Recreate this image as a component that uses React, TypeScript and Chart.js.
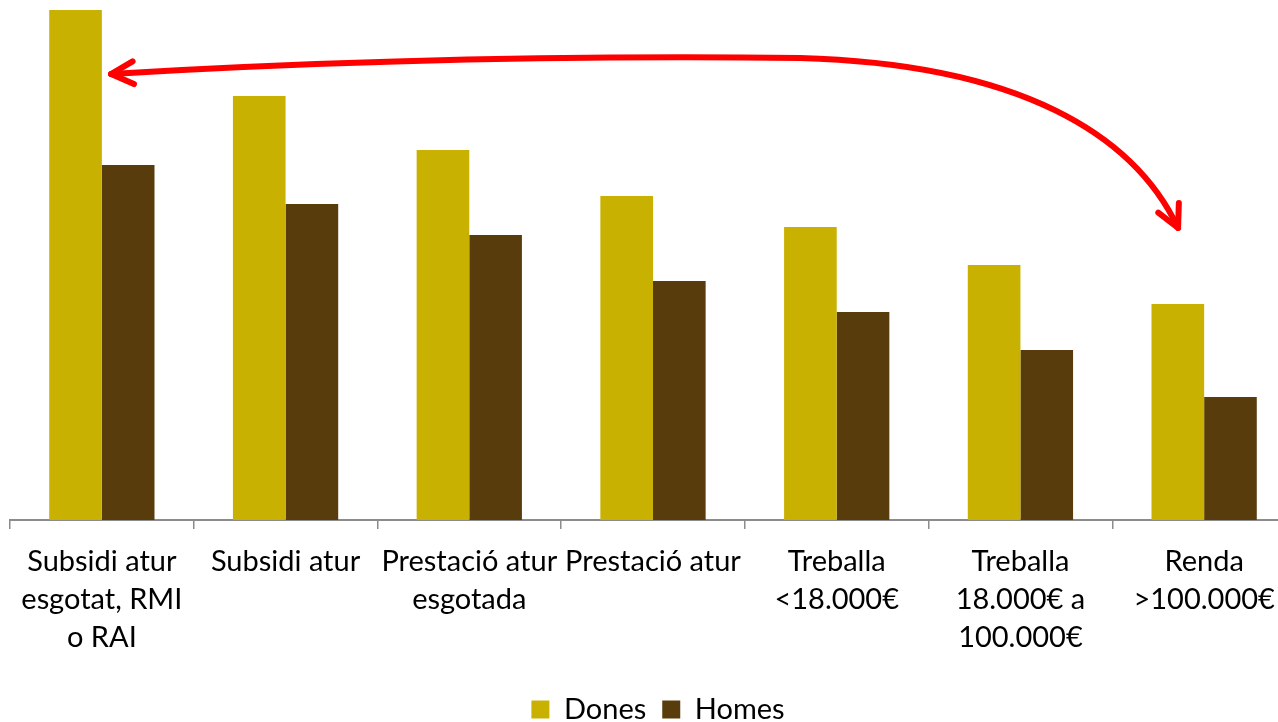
import { useEffect, useRef } from "react";
import { Chart, registerables } from "chart.js";

Chart.register(...registerables);

// ---- Data ----
const categories: string[][] = [
  ["Subsidi atur", "esgotat, RMI", "o RAI"],
  ["Subsidi atur"],
  ["Prestació atur", "esgotada"],
  ["Prestació atur"],
  ["Treballa", "<18.000€"],
  ["Treballa", "18.000€ a", "100.000€"],
  ["Renda", ">100.000€"],
];
const seriesNames = ["Dones", "Homes"];
const donesValues = [510, 424, 370, 324, 293, 255, 216];
const homesValues = [355, 316, 285, 239, 208, 170, 123];
const yMax = 520;

// Arrow annotation anchors: [category index (fractional), value]
const arrowStart = [0.05, 446];
const arrowCtrl1 = [1.895, 466];
const arrowMid = [3.8, 462];
const arrowCtrl2 = [5.0, 456];
const arrowCtrl3 = [5.62, 385];
const arrowEnd = [5.858, 292];

const FONT = "Lato, 'Open Sans', sans-serif";

const arrowPlugin = {
  id: "curvedArrow",
  afterDatasetsDraw(chart: any) {
    const xs = chart.scales.x;
    const ys = chart.scales.y;
    const c0 = xs.getPixelForValue(0);
    const cw = xs.getPixelForValue(1) - c0;
    const P = (a: number[]) => [c0 + a[0] * cw, ys.getPixelForValue(a[1])];
    const s = P(arrowStart), c1 = P(arrowCtrl1), m = P(arrowMid);
    const c2 = P(arrowCtrl2), c3 = P(arrowCtrl3), e = P(arrowEnd);
    const ctx = chart.ctx as CanvasRenderingContext2D;
    ctx.save();
    ctx.strokeStyle = "#FF0000";
    ctx.lineWidth = 6;
    ctx.lineCap = "round";
    ctx.lineJoin = "round";
    ctx.beginPath();
    ctx.moveTo(s[0], s[1]);
    ctx.quadraticCurveTo(c1[0], c1[1], m[0], m[1]);
    ctx.bezierCurveTo(c2[0], c2[1], c3[0], c3[1], e[0], e[1]);
    ctx.stroke();
    const head = (tip: number[], toward: number[]) => {
      const dx = toward[0] - tip[0], dy = toward[1] - tip[1];
      const len = Math.hypot(dx, dy);
      const ux = dx / len, uy = dy / len;
      const ang = (27 * Math.PI) / 180;
      const L = 25;
      const r = (a: number) => [
        tip[0] + L * (ux * Math.cos(a) - uy * Math.sin(a)),
        tip[1] + L * (ux * Math.sin(a) + uy * Math.cos(a)),
      ];
      const a1 = r(ang), a2 = r(-ang);
      ctx.beginPath();
      ctx.moveTo(a1[0], a1[1]);
      ctx.lineTo(tip[0], tip[1]);
      ctx.lineTo(a2[0], a2[1]);
      ctx.stroke();
    };
    head(s, c1);
    head(e, c3);
    ctx.restore();
  },
};

export default function App() {
  const ref = useRef<HTMLCanvasElement | null>(null);
  useEffect(() => {
    if (!ref.current) return;
    Chart.defaults.font.family = FONT;
    const chart = new Chart(ref.current, {
      type: "bar",
      data: {
        labels: categories,
        datasets: [
          {
            label: seriesNames[0],
            data: donesValues,
            backgroundColor: "#C8B100",
            borderWidth: 0,
          },
          {
            label: seriesNames[1],
            data: homesValues,
            backgroundColor: "#583C0C",
            borderWidth: 0,
          },
        ],
      },
      options: {
        responsive: false,
        animation: false,
        devicePixelRatio: 1,
        layout: { padding: { left: 10, right: 0, top: 0, bottom: 0 } },
        datasets: {
          bar: { categoryPercentage: 0.573, barPercentage: 1 },
        },
        scales: {
          x: {
            grid: {
              display: true,
              drawOnChartArea: false,
              drawTicks: true,
              tickLength: 9,
              color: "#8c8c8c",
              lineWidth: 1.5,
              offset: true,
            },
            border: { display: true, color: "#8c8c8c", width: 2 },
            ticks: {
              color: "#000",
              font: { family: FONT, size: 29, lineHeight: "38px" },
              padding: 14,
              maxRotation: 0,
              minRotation: 0,
              autoSkip: false,
            },
            afterFit: (s: any) => {
              s.height = 159;
            },
          },
          y: {
            position: "right",
            min: 0,
            max: yMax,
            grid: { display: false },
            border: { display: false },
            ticks: { display: false },
            afterFit: (s: any) => {
              s.width = 10;
            },
          },
        },
        plugins: {
          legend: {
            position: "bottom",
            labels: {
              color: "#000",
              boxWidth: 18,
              boxHeight: 18,
              padding: 16,
              font: { family: FONT, size: 29 },
            },
          },
          tooltip: { enabled: false },
        },
      },
      plugins: [arrowPlugin],
    });
    return () => chart.destroy();
  }, []);
  return (
    <div
      style={{
        position: "absolute",
        left: 0,
        top: 0,
        width: 1278,
        height: 722,
        overflow: "hidden",
        background: "#fff",
      }}
    >
      <canvas
        ref={ref}
        width={1306}
        height={734}
        style={{ display: "block", width: 1306, height: 734 }}
      />
    </div>
  );
}
